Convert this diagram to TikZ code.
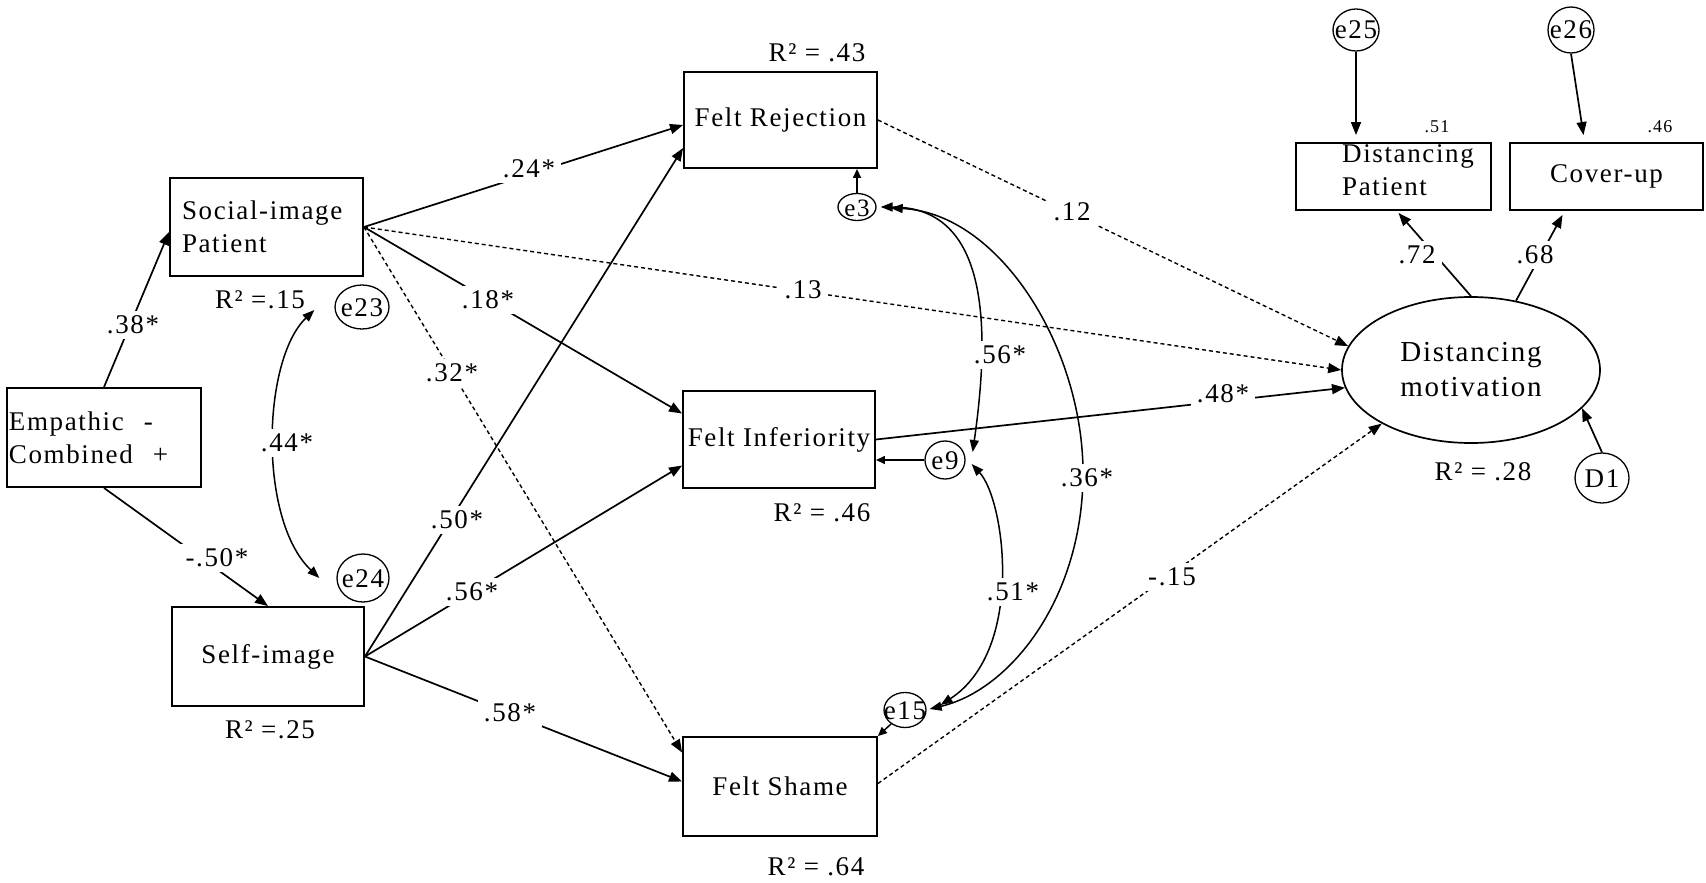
\documentclass[tikz,border=0pt]{standalone}
\usepackage{fontspec}
\setmainfont{Liberation Serif}[LetterSpace=6]
\usetikzlibrary{arrows.meta,calc,shapes.geometric}

\begin{document}
\begin{tikzpicture}[x=1pt,y=-1pt,
  every node/.style={font=\fontsize{27}{33}\selectfont},
  box/.style={draw, line width=1.9pt, rectangle, inner sep=0pt},
  err/.style={draw, ellipse, line width=1.3pt, inner sep=0pt,
              text height=18pt, text depth=0pt, font=\fontsize{27}{30}\selectfont},
  lbl/.style={fill=white, inner xsep=6pt, inner ysep=5pt},
  small/.style={font=\fontsize{18}{20}\selectfont, inner sep=0pt},
  arr/.style={line width=1.7pt, -{Triangle[length=13pt,width=10pt]}},
  darr/.style={arr, line width=1.4pt, dash pattern=on 4pt off 3pt},
  sarr/.style={line width=1.5pt, -{Triangle[length=9pt,width=8pt]}},
  cov/.style={line width=1.5pt,
              {Triangle[length=12pt,width=9pt]}-{Triangle[length=12pt,width=9pt]}},
]
\useasboundingbox (0,0) rectangle (1706,883);

% observed variables
\node[box, minimum width=194pt, minimum height=99pt, text width=190pt, align=left]
  (emp) at (104,437.5) {Empathic\hspace{20pt}-\\Combined\hspace{20pt}+};
\node[box, minimum width=193pt, minimum height=98pt, text width=169pt, align=left]
  (soc) at (266.5,227) {Social-image\\Patient};
\node[box, minimum width=192pt, minimum height=99pt] (self) at (268,656.5) {Self-image};
\node[box, minimum width=193pt, minimum height=96pt] (fr) at (780.5,120) {Felt Rejection};
\node[box, minimum width=192pt, minimum height=97pt] (fi) at (779,439.5) {Felt Inferiority};
\node[box, minimum width=194pt, minimum height=99pt] (fs) at (780,786.5) {Felt Shame};
\node[box, minimum width=195pt, minimum height=67pt] (dp) at (1393.5,176.5) {};
\node[align=left, anchor=west, inner sep=0pt] (dptxt) at (1342,170) {Distancing\\Patient};
\node[box, minimum width=193pt, minimum height=67pt] (cu) at (1606.5,176.5) {Cover-up};

% latent variable
\node[draw, ellipse, line width=1.7pt, minimum width=258pt, minimum height=146pt,
      inner sep=0pt, align=center, font=\fontsize{29}{35}\selectfont]
  (dm) at (1471,370) {Distancing\\motivation};

% error terms
\node[err, minimum width=54pt, minimum height=44pt] (e23) at (362,307) {\makebox[0pt]{e23}};
\node[err, minimum width=52pt, minimum height=48pt] (e24) at (363,578) {\makebox[0pt]{e24}};
\node[err, minimum width=38pt, minimum height=27pt, font=\fontsize{25}{30}\selectfont] (e3) at (857,207) {\makebox[0pt]{e3}};
\node[err, minimum width=40pt, minimum height=38pt] (e9) at (945,460) {\makebox[0pt]{e9}};
\node[err, minimum width=42pt, minimum height=35pt] (e15) at (905,710) {\makebox[0pt]{e15}};
\node[err, minimum width=46pt, minimum height=42pt] (e25) at (1356,30) {\makebox[0pt]{e25}};
\node[err, minimum width=46pt, minimum height=46pt] (e26) at (1571,30) {\makebox[0pt]{e26}};
\node[err, minimum width=54pt, minimum height=50pt] (d1) at (1602,478) {\makebox[0pt]{D1}};

% explained variance
\node (r43) at (817,53) {R² = .43};
\node (r15) at (260,300) {R² =.15};
\node (r25) at (270,730) {R² =.25};
\node (r46) at (822,513) {R² = .46};
\node (r64) at (816,867) {R² = .64};
\node (r28) at (1483,472) {R² = .28};
\node[small] (r51) at (1437,127) {.51};
\node[small] (r46b) at (1660,127) {.46};

% structural paths
\draw[arr]  (emp.north) -- ($(soc.west)+(0,5)$);
\draw[arr]  (emp.south) -- (self.north);
\draw[arr]  (soc.east) -- ($(fr.west)+(0,5)$);
\draw[darr] (soc.east) -- (dm.west);
\draw[arr]  (soc.east) -- ($(fi.west)+(0,-26)$);
\draw[darr] (soc.east) -- ($(fs.west)+(0,-34)$);
\draw[arr]  (self.east) -- ($(fr.west)+(0,28)$);
\draw[arr]  (self.east) -- ($(fi.west)+(0,26)$);
\draw[arr]  (self.east) -- ($(fs.west)+(0,-5)$);
\draw[darr] (fr.east) -- (dm.169);
\draw[arr]  (fi.east) -- (dm.188);
\draw[darr] ($(fs.east)+(0,-3)$) -- (dm.211);

% measurement paths
\draw[arr] (dm.90) -- ($(dp.south)+(5,2)$);
\draw[arr] (dm.57) -- ($(cu.south)+(-44,4)$);
\draw[arr] (e25.south) -- ($(dp.north -| e25.south)+(0,-7)$);
\draw[arr] (e26.south) -- ($(cu.north)+(-23,-7)$);
\draw[arr] (d1.north) -- (dm.-19);

% residual paths
\draw[sarr] (e3.north) -- (e3.north |- fr.south);
\draw[sarr] (e9.west) -- (e9.west -| fi.east);
\draw[sarr] (e15.225) -- (fs.north east);

% correlated residuals
\draw[cov] ($(e23.west)+(-20,3)$) .. controls (262,360) and (258,520) .. ($(e24.west)+(-17,0)$);
\draw[cov] ($(e3.east)+(4,0)$) .. controls (990,207) and (990,330) .. ($(e9.east)+(7,-8)$);
\draw[cov] ($(e3.east)+(14,1)$) .. controls (1000,213) and (1085,350) .. (1083,478)
           .. controls (1081,600) and (1010,690) .. ($(e15.east)+(3,-1)$);
\draw[cov] ($(e9.east)+(6,4)$) .. controls (1005,500) and (1025,650) .. ($(e15.east)+(14,-5)$);

% coefficients
\node[lbl] (c38)  at (133,325)  {.38*};
\node[lbl] (c44)  at (287,443)  {.44*};
\node[lbl] (c50n) at (217,558)  {-.50*};
\node[lbl] (c24)  at (529,169)  {.24*};
\node[lbl] (c18)  at (488,300)  {.18*};
\node[lbl] (c32)  at (452,373)  {.32*};
\node[lbl] (c50)  at (457,520)  {.50*};
\node[lbl] (c56a) at (472,592)  {.56*};
\node[lbl] (c58)  at (510,713)  {.58*};
\node[lbl] (c13)  at (803,290)  {.13};
\node[lbl] (c12)  at (1072,212) {.12};
\node[lbl] (c56b) at (1000,355) {.56*};
\node[lbl] (c36)  at (1087,478) {.36*};
\node[lbl] (c51)  at (1013,592) {.51*};
\node[lbl] (c48)  at (1223,394) {.48*};
\node[lbl] (c15)  at (1172,577) {-.15};
\node[lbl] (c72)  at (1417,255) {.72};
\node[lbl] (c68)  at (1535,255) {.68};
\end{tikzpicture}
\end{document}
